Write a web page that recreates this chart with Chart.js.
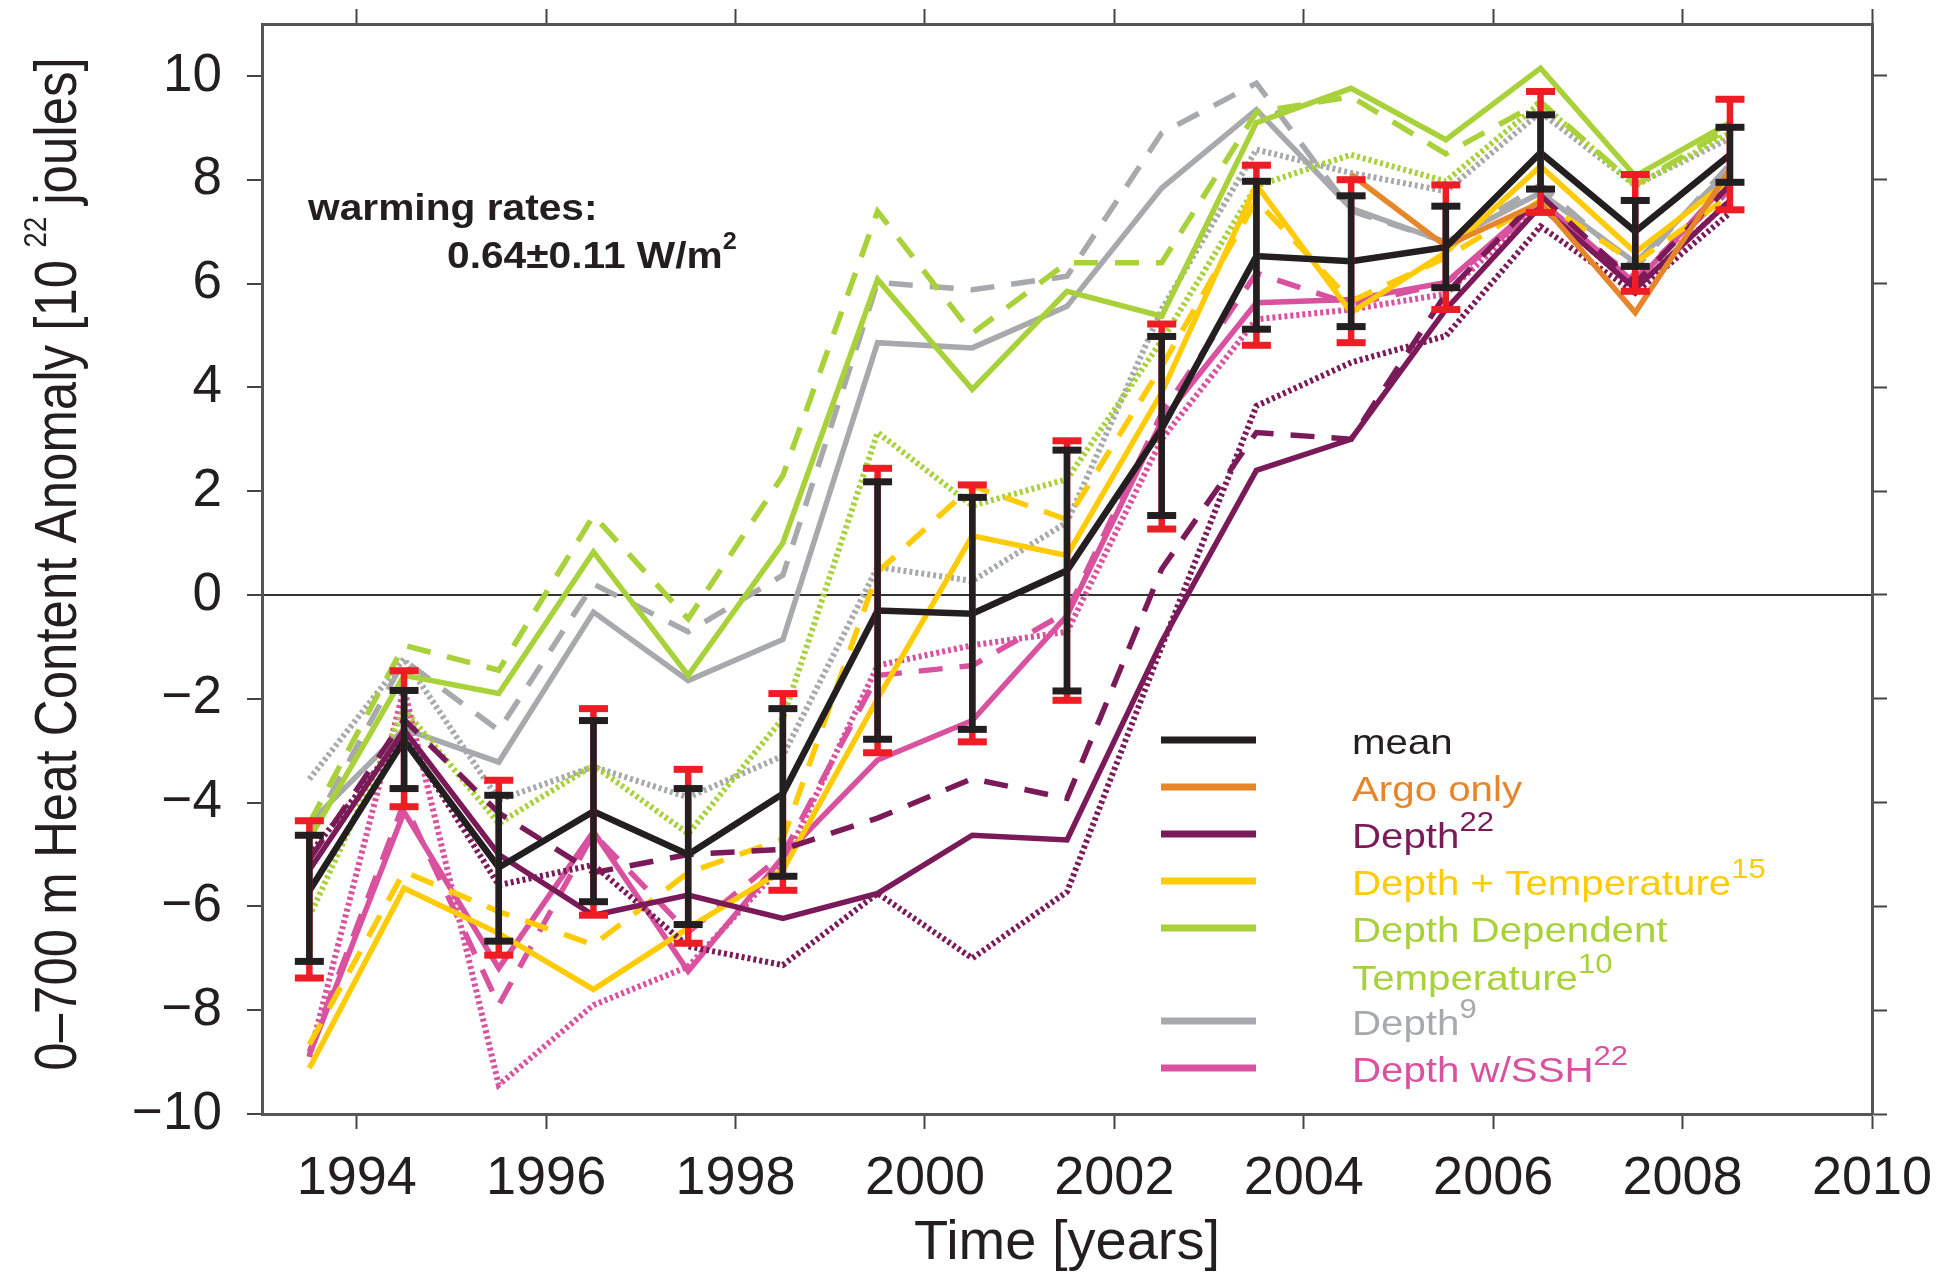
<!DOCTYPE html>
<html>
<head>
<meta charset="utf-8">
<script src="https://cdn.jsdelivr.net/npm/chart.js@4.4.1/dist/chart.umd.min.js"></script>
<style>html,body{margin:0;padding:0;background:#fff;}canvas{display:block;}</style>
</head>
<body>
<canvas id="c" width="1942" height="1275" style="width:1942px;height:1275px"></canvas>
<script>
// ---------------- DATA ----------------
const years = [1993.5,1994.5,1995.5,1996.5,1997.5,1998.5,1999.5,2000.5,2001.5,2002.5,2003.5,2004.5,2005.5,2006.5,2007.5,2008.5];
const xTickValues = [1994,1996,1998,2000,2002,2004,2006,2008,2010];
const yTickValues = [-10,-8,-6,-4,-2,0,2,4,6,8,10];

const meanValues   = [-5.7,-2.8,-5.25,-4.17,-5.0,-3.83,-0.3,-0.36,0.47,3.2,6.53,6.43,6.7,8.52,7.0,8.48];
const meanErrLow   = [-7.06,-3.73,-6.67,-5.91,-6.35,-5.42,-2.78,-2.59,-1.85,1.53,5.12,5.17,5.92,7.82,6.33,7.95];
const meanErrHigh  = [-4.63,-1.84,-3.86,-2.42,-3.73,-2.19,2.18,1.88,2.79,4.98,7.97,7.69,7.49,9.25,7.6,9.01];
const outerErrLow  = [-7.38,-4.08,-6.94,-6.17,-6.71,-5.69,-3.04,-2.83,-2.03,1.27,4.81,4.86,5.5,7.37,5.85,7.42];
const outerErrHigh = [-4.35,-1.46,-3.57,-2.19,-3.36,-1.9,2.44,2.12,2.97,5.22,8.28,8.0,7.9,9.7,8.1,9.55];

const argoOnly     = [null,null,null,null,null,null,null,null,null,null,null,8.1,6.72,7.56,5.44,8.19];

const depth22Solid  = [-5.3,-2.6,-5.0,-6.17,-5.78,-6.23,-5.75,-4.63,-4.72,-0.9,2.4,3.0,5.5,7.49,5.9,7.6];
const depth22Dashed = [-5.1,-2.4,-4.2,-5.35,-5.0,-4.9,-4.3,-3.54,-3.92,0.5,3.13,3.0,5.8,7.7,6.0,7.9];
const depth22Dotted = [-5.0,-2.7,-5.59,-5.2,-6.77,-7.13,-5.75,-7.0,-5.72,-1.0,3.64,4.48,4.99,7.1,5.82,7.36];

const depthTempSolid  = [-9.12,-5.65,-6.52,-7.6,-6.42,-5.3,-2.0,1.14,0.76,3.9,7.9,5.44,6.6,8.26,6.6,8.0];
const depthTempDashed = [-8.66,-5.33,-6.1,-6.74,-5.35,-4.7,0.44,2.1,1.45,4.4,7.6,5.66,6.5,7.6,6.4,7.7];

const depthDepSolid  = [-4.7,-1.55,-1.9,0.83,-1.55,1.0,6.08,3.96,5.85,5.37,9.1,9.76,8.77,10.15,8.07,9.1];
const depthDepDashed = [-4.4,-0.97,-1.45,1.53,-0.46,2.3,7.39,5.04,6.4,6.4,9.3,9.6,8.5,9.5,7.9,9.0];
const depthDepDotted = [-6.2,-2.2,-4.4,-3.28,-4.6,-2.38,3.13,1.72,2.23,4.9,7.88,8.48,7.97,9.48,7.88,8.9];

const depth9Solid  = [-4.4,-2.58,-3.22,-0.33,-1.65,-0.86,4.86,4.76,5.56,7.84,9.35,7.45,6.8,7.75,6.4,8.2];
const depth9Dashed = [-4.6,-1.26,-2.61,0.21,-0.71,0.38,6.02,5.88,6.14,8.9,9.86,7.4,6.8,7.9,6.3,8.3];
const depth9Dotted = [-3.55,-1.23,-3.95,-3.31,-3.9,-3.1,0.54,0.27,1.4,5.5,8.58,8.13,7.78,9.3,7.9,8.8];

const sshSolid  = [-8.86,-4.18,-7.19,-4.56,-7.25,-5.05,-3.18,-2.42,-0.4,3.35,5.63,5.69,6.02,7.6,6.0,8.0];
const sshDashed = [-8.8,-4.0,-7.9,-4.6,-6.5,-5.0,-1.55,-1.36,-0.33,3.5,6.2,5.6,6.0,7.5,6.1,7.8];
const sshDotted = [-8.9,-1.8,-9.44,-7.9,-7.16,-5.2,-1.36,-0.97,-0.71,3.0,5.31,5.5,5.8,7.5,5.9,7.6];

// ---------------- STYLE ----------------
const FONT = "'Liberation Sans', Arial, Helvetica, sans-serif";
const C = {
  black: '#231f20', orange: '#e6862b', purple: '#7b1a59', yellow: '#ffcb05',
  green: '#a8d13a', gray: '#a7a9ac', pink: '#d9529f', red: '#ee1c25'
};
const DASH = { solid: [], dashed: [24, 17], dotted: [3, 3] };
const WIDTH = { solid: 5.5, dashed: 5.5, dotted: 6 };

const seriesList = [
  {name: 'mean', values: meanValues, color: C.black, style: 'solid', width: 6.5},
  {name: 'Argo only', values: argoOnly, color: C.orange, style: 'solid'},
  {name: 'Depth22 solid', values: depth22Solid, color: C.purple, style: 'solid'},
  {name: 'Depth22 dashed', values: depth22Dashed, color: C.purple, style: 'dashed'},
  {name: 'Depth22 dotted', values: depth22Dotted, color: C.purple, style: 'dotted'},
  {name: 'Depth+Temp solid', values: depthTempSolid, color: C.yellow, style: 'solid'},
  {name: 'Depth+Temp dashed', values: depthTempDashed, color: C.yellow, style: 'dashed'},
  {name: 'DepthDep solid', values: depthDepSolid, color: C.green, style: 'solid'},
  {name: 'DepthDep dashed', values: depthDepDashed, color: C.green, style: 'dashed'},
  {name: 'DepthDep dotted', values: depthDepDotted, color: C.green, style: 'dotted'},
  {name: 'Depth9 solid', values: depth9Solid, color: C.gray, style: 'solid'},
  {name: 'Depth9 dashed', values: depth9Dashed, color: C.gray, style: 'dashed'},
  {name: 'Depth9 dotted', values: depth9Dotted, color: C.gray, style: 'dotted'},
  {name: 'SSH solid', values: sshSolid, color: C.pink, style: 'solid'},
  {name: 'SSH dashed', values: sshDashed, color: C.pink, style: 'dashed'},
  {name: 'SSH dotted', values: sshDotted, color: C.pink, style: 'dotted'}
];

const datasets = seriesList.map(s => ({
  label: s.name,
  data: years.map((x, i) => ({x: x, y: s.values[i]})),
  borderColor: s.color,
  borderWidth: s.width || WIDTH[s.style],
  borderDash: DASH[s.style],
  borderCapStyle: 'butt',
  borderJoinStyle: 'miter',
  pointRadius: 0,
  fill: false,
  tension: 0,
  spanGaps: false
}));

const legendRows = [
  {y: 740, line: C.black, color: C.black, parts: [['mean']]},
  {y: 787, line: C.orange, color: C.orange, parts: [['Argo only']]},
  {y: 834, line: C.purple, color: C.purple, parts: [['Depth'], ['22', true]]},
  {y: 881, line: C.yellow, color: C.yellow, parts: [['Depth + Temperature'], ['15', true]]},
  {y: 928, line: C.green, color: C.green, parts: [['Depth Dependent']]},
  {y: 976, line: null, color: C.green, parts: [['Temperature'], ['10', true]]},
  {y: 1021, line: C.gray, color: C.gray, parts: [['Depth'], ['9', true]]},
  {y: 1068, line: C.pink, color: C.pink, parts: [['Depth w/SSH'], ['22', true]]}
];

function drawRich(ctx, parts, x, y, color, size, supSize, supRise, stretch, bold) {
  ctx.save();
  ctx.translate(x, y);
  ctx.scale(stretch, 1);
  ctx.fillStyle = color;
  ctx.textBaseline = 'alphabetic';
  ctx.textAlign = 'left';
  let cx = 0;
  const w = bold ? 'bold ' : '';
  parts.forEach(p => {
    if (p[1]) {
      ctx.font = w + supSize + 'px ' + FONT;
      ctx.fillText(p[0], cx, -supRise);
    } else {
      ctx.font = w + size + 'px ' + FONT;
      ctx.fillText(p[0], cx, 0);
    }
    cx += ctx.measureText(p[0]).width;
  });
  ctx.restore();
}

const extras = {
  id: 'extras',
  afterDatasetsDraw(chart) {
    const {ctx} = chart;
    const xs = chart.scales.x, ys = chart.scales.y;
    ctx.save();
    function bar(lo, hi, xv, color) {
      const px = xs.getPixelForValue(xv);
      const pl = ys.getPixelForValue(lo), ph = ys.getPixelForValue(hi);
      ctx.strokeStyle = color; ctx.lineWidth = 6.5; ctx.lineCap = 'butt';
      ctx.beginPath(); ctx.moveTo(px, pl); ctx.lineTo(px, ph); ctx.stroke();
      ctx.fillStyle = color;
      ctx.fillRect(px - 14.5, pl - 3.5, 29, 7);
      ctx.fillRect(px - 14.5, ph - 3.5, 29, 7);
    }
    years.forEach((yr, i) => bar(outerErrLow[i], outerErrHigh[i], yr, C.red));
    years.forEach((yr, i) => bar(meanErrLow[i], meanErrHigh[i], yr, C.black));
    ctx.restore();
  },
  afterDraw(chart) {
    const {ctx} = chart;
    ctx.save();
    legendRows.forEach(r => {
      if (r.line) {
        ctx.fillStyle = r.line;
        ctx.fillRect(1161, r.y - 3.5, 95, 7);
      }
      drawRich(ctx, r.parts, 1352, r.y + 14, r.color, 35, 27, 17, 1.15, false);
    });
    drawRich(ctx, [['warming rates:']], 308, 220, C.black, 37, 22, 0, 1.1, true);
    drawRich(ctx, [['0.64\u00b10.11 W/m'], ['2', true]], 447, 268, C.black, 37, 23, 19, 1.1, true);
    // y-axis title
    const ca = chart.chartArea;
    const cy = (ca.top + ca.bottom) / 2 - 5;
    ctx.translate(76, cy);
    ctx.rotate(-Math.PI / 2);
    ctx.scale(1, 1.15);
    ctx.fillStyle = C.black;
    ctx.textBaseline = 'alphabetic';
    ctx.textAlign = 'left';
    const mainSize = 51, supSize = 28;
    const p1 = '0\u2013700 m Heat Content Anomaly [10', p2 = '22', p3 = 'joules]';
    ctx.font = mainSize + 'px ' + FONT;
    const w1 = ctx.measureText(p1).width, w3 = ctx.measureText(p3).width;
    ctx.font = supSize + 'px ' + FONT;
    const w2 = ctx.measureText(p2).width;
    const gap = 12;
    const total = w1 + gap + w2 + gap + w3;
    let cx = -total / 2;
    ctx.font = mainSize + 'px ' + FONT;
    ctx.fillText(p1, cx, 0); cx += w1 + gap;
    ctx.font = supSize + 'px ' + FONT;
    ctx.fillText(p2, cx, -26); cx += w2 + gap;
    ctx.font = mainSize + 'px ' + FONT;
    ctx.fillText(p3, cx, 0);
    ctx.restore();
  }
};

function setTicks(values) {
  return function (scale) { scale.ticks = values.map(v => ({value: v})); };
}
function fixSize(prop, size) {
  return function (scale) {
    scale[prop] = size;
    scale.paddingLeft = 0; scale.paddingRight = 0; scale.paddingTop = 0; scale.paddingBottom = 0;
  };
}
const gridCommon = {drawOnChartArea: false, drawTicks: true, tickLength: 15, tickWidth: 2, tickColor: '#444'};
const borderCommon = {display: true, color: '#555', width: 3};

new Chart(document.getElementById('c'), {
  type: 'line',
  data: {datasets: datasets},
  options: {
    responsive: false,
    devicePixelRatio: 1,
    animation: false,
    layout: {padding: 0},
    plugins: {legend: {display: false}, tooltip: {enabled: false}, title: {display: false}},
    scales: {
      x: {
        type: 'linear', position: 'bottom', min: 1993, max: 2010,
        afterBuildTicks: setTicks(xTickValues),
        afterFit: fixSize('height', 161),
        ticks: {color: C.black, font: {family: FONT, size: 54}, padding: 18, maxRotation: 0,
                callback: v => String(v)},
        grid: gridCommon, border: borderCommon,
        title: {display: true, text: 'Time [years]', color: C.black,
                font: {family: FONT, size: 56}, padding: {top: 0, bottom: -2}}
      },
      x2: {
        type: 'linear', position: 'top', min: 1993, max: 2010,
        afterBuildTicks: setTicks(xTickValues),
        afterFit: fixSize('height', 24),
        ticks: {display: false}, grid: gridCommon, border: borderCommon
      },
      y: {
        type: 'linear', position: 'left', min: -10, max: 11,
        afterBuildTicks: setTicks(yTickValues),
        afterFit: fixSize('width', 262),
        ticks: {color: C.black, font: {family: FONT, size: 53}, padding: 25,
                callback: v => (v < 0 ? '\u2212' + Math.abs(v) : String(v))},
        grid: {
          drawOnChartArea: true, drawTicks: true, tickLength: 15, tickWidth: 2, tickColor: '#444',
          color: c => (c.tick && c.tick.value === 0 ? '#333' : 'rgba(0,0,0,0)'),
          lineWidth: c => (c.tick && c.tick.value === 0 ? 2 : 0)
        },
        border: borderCommon
      },
      y2: {
        type: 'linear', position: 'right', min: -10, max: 11,
        afterBuildTicks: setTicks(yTickValues),
        afterFit: fixSize('width', 70),
        ticks: {display: false}, grid: gridCommon, border: borderCommon
      }
    }
  },
  plugins: [extras]
});
</script>
</body>
</html>
